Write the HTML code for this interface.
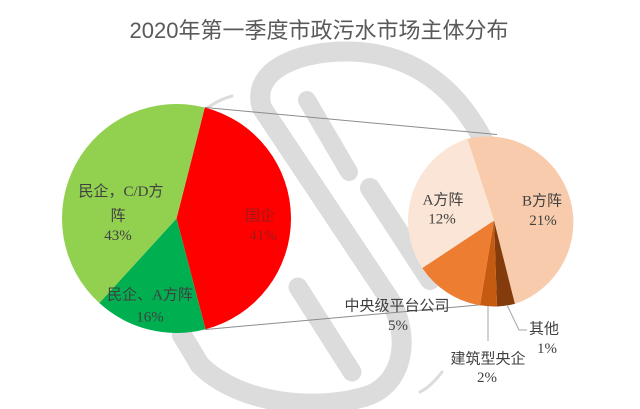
<!DOCTYPE html>
<html><head><meta charset="utf-8">
<style>
html,body{margin:0;padding:0;background:#fff;}
svg{display:block;}
text{font-family:"Liberation Serif","Noto Sans CJK SC",serif;}
.t{font-family:"Liberation Sans","Noto Sans CJK SC",sans-serif;}
.c{font-family:"Liberation Serif","Noto Sans CJK SC",sans-serif;}
</style></head>
<body>
<svg width="640" height="409" viewBox="0 0 640 409" xmlns="http://www.w3.org/2000/svg">
<rect width="640" height="409" fill="#fff"/>
<!-- watermark -->
<g fill="none" stroke="#dcdcdc" stroke-linecap="round">
  <path d="M495,165 C470,105 430,58 360,52 C300,48 250,70 262,108 L390,300 C410,335 405,380 370,395 C320,412 240,405 200,365 L182,335" stroke-width="20"/>
  <path d="M307,100 L349,172" stroke-width="18"/>
  <path d="M370,188 L430,280" stroke-width="20"/>
  <path d="M298,287 L352,372" stroke-width="19"/>
  <path d="M196,118 C205,108 218,100 232,96" stroke-width="3"/>
  <path d="M420,392 C428,388 436,380 442,372" stroke-width="3"/>
</g>
<!-- connector lines -->
<line x1="205" y1="107.5" x2="497" y2="134.5" stroke="#8c8c8c" stroke-width="1"/>
<line x1="205.5" y1="329.5" x2="484" y2="304.5" stroke="#8c8c8c" stroke-width="1"/>
<!-- left pie: center 176.5,218.5 r 114.5 -->
<path d="M176.5,218.5 L204.8,107.55 A114.5,114.5 0 0 1 205.56,329.25 Z" fill="#ff0000"/>
<path d="M176.5,218.5 L205.56,329.25 A114.5,114.5 0 0 1 99.3,303.06 Z" fill="#00b050"/>
<path d="M176.5,218.5 L99.3,303.06 A114.5,114.5 0 0 1 204.8,107.55 Z" fill="#92d050"/>
<!-- right pie: center 494,220.5 r 86 -->
<path d="M494,220.5 L467.3,138.8 A86,86 0 0 1 514.9,303.9 Z" fill="#f8cbad"/>
<path d="M494,220.5 L514.9,303.9 A86,86 0 0 1 497.0,306.5 Z" fill="#843c0c"/>
<path d="M494,220.5 L497.0,306.5 A86,86 0 0 1 480.0,305.3 Z" fill="#c55a11"/>
<path d="M494,220.5 L480.0,305.3 A86,86 0 0 1 422.3,268.0 Z" fill="#ed7d31"/>
<path d="M494,220.5 L422.3,268.0 A86,86 0 0 1 467.3,138.8 Z" fill="#fbe5d6"/>
<!-- leader lines -->
<polyline points="488,306 488,341" fill="none" stroke="#a6a6a6" stroke-width="1"/>
<polyline points="507,305 519,330 527,330" fill="none" stroke="#a6a6a6" stroke-width="1"/>
<!-- title -->
<text class="t" x="319" y="38" font-size="22" fill="#595959" text-anchor="middle">2020年第一季度市政污水市场主体分布</text>
<!-- left labels -->
<g font-size="15" fill="#404040" text-anchor="middle" class="c">
  <text x="121" y="196">民企，C/D方</text>
  <text x="118" y="220.5">阵</text>
  <text x="118" y="240">43%</text>
  <text x="150" y="299.5">民企、A方阵</text>
  <text x="150" y="321.5">16%</text>
</g>
<g font-size="15" fill="#a01818" text-anchor="middle" class="c">
  <text x="260" y="220.5">国企</text>
  <text x="263" y="240">41%</text>
</g>
<!-- right labels -->
<g font-size="15" fill="#404040" text-anchor="middle" class="c">
  <text x="443" y="204.5">A方阵</text>
  <text x="442" y="223.5">12%</text>
  <text x="542" y="205.5">B方阵</text>
  <text x="543" y="225">21%</text>
  <text x="397" y="310.5">中央级平台公司</text>
  <text x="398" y="330">5%</text>
  <text x="488" y="363.5">建筑型央企</text>
  <text x="487" y="382">2%</text>
  <text x="544" y="333.5">其他</text>
  <text x="547" y="353">1%</text>
</g>
</svg>
</body></html>
